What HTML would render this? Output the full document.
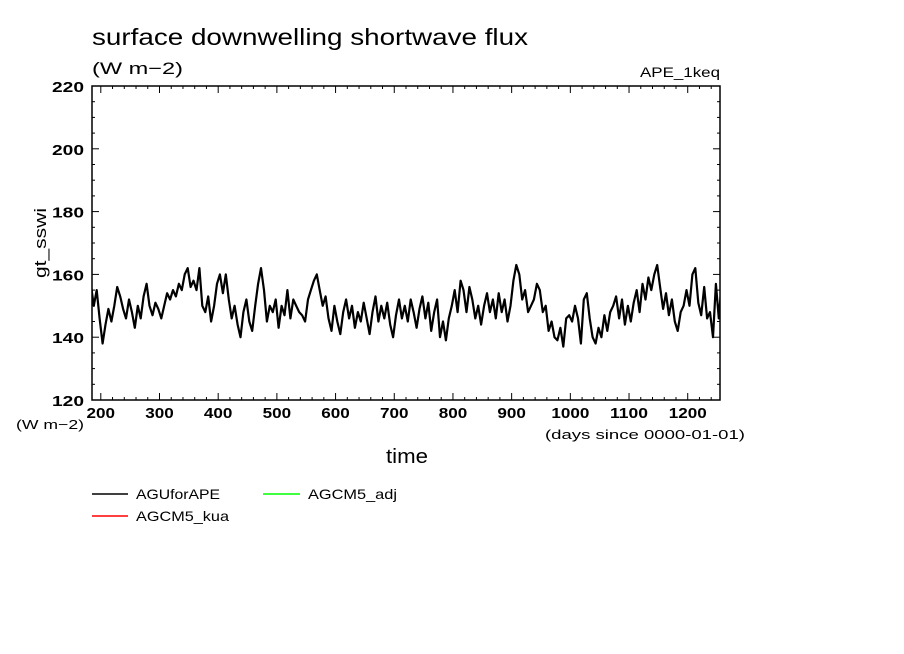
<!DOCTYPE html>
<html><head><meta charset="utf-8"><style>
body{margin:0;background:#fff;}
svg{display:block;font-family:"Liberation Sans",sans-serif;}
</style></head><body>
<svg id="chart" width="904" height="654">
<text x="92" y="45" font-size="23" textLength="436" lengthAdjust="spacingAndGlyphs">surface downwelling shortwave flux</text>
<text x="92" y="74" font-size="17" textLength="91" lengthAdjust="spacingAndGlyphs">(W m−2)</text>
<text x="640" y="77" font-size="14" textLength="80" lengthAdjust="spacingAndGlyphs">APE_1keq</text>
<g id="axes"></g>
<g id="series"></g>
<text transform="translate(46,278) rotate(-90)" font-size="17" textLength="70" lengthAdjust="spacingAndGlyphs">gt_sswi</text>
<text x="16" y="429" font-size="13" textLength="68" lengthAdjust="spacingAndGlyphs">(W m−2)</text>
<text x="545" y="439" font-size="13" textLength="200" lengthAdjust="spacingAndGlyphs">(days since 0000-01-01)</text>
<text x="386" y="463" font-size="20" textLength="42" lengthAdjust="spacingAndGlyphs">time</text>
<g>
<line x1="92" y1="494" x2="128" y2="494" stroke="#000" stroke-width="1.5"/>
<text x="136" y="499" font-size="14" textLength="84" lengthAdjust="spacingAndGlyphs">AGUforAPE</text>
<line x1="92" y1="516" x2="128" y2="516" stroke="#f00" stroke-width="1.5"/>
<text x="136" y="521" font-size="14" textLength="93" lengthAdjust="spacingAndGlyphs">AGCM5_kua</text>
<line x1="263" y1="494" x2="300" y2="494" stroke="#0f0" stroke-width="1.5"/>
<text x="308" y="499" font-size="14" textLength="89" lengthAdjust="spacingAndGlyphs">AGCM5_adj</text>
</g>
</svg>
<script>
const xTicks=[200,300,400,500,600,700,800,900,1000,1100,1200];
const yTicks=[120,140,160,180,200,220];
const startDay=183, stepDays=5;
const values=[157,150,155,146,138,144,149,145,150,156,153,149,146,152,148,143,150,146,153,157,150,147,151,149,146,150,154,152,155,153,157,155,160,162,156,158,155,162,150,148,153,145,150,157,160,154,160,152,146,150,144,140,148,152,145,142,150,157,162,155,145,150,148,152,143,150,147,155,146,152,150,148,147,145,152,155,158,160,155,150,153,146,142,150,145,141,148,152,146,150,143,148,145,151,146,141,148,153,145,150,146,151,144,140,147,152,146,150,145,152,148,143,149,153,146,151,142,148,152,140,145,139,146,150,155,148,158,155,148,156,152,146,150,144,150,154,148,152,146,154,148,152,145,150,158,163,160,152,155,148,150,152,157,155,148,150,142,145,140,139,143,137,146,147,145,150,146,138,152,154,146,140,138,143,140,147,142,148,150,153,146,152,144,150,145,151,155,148,157,152,159,155,160,163,156,149,154,147,152,145,142,148,150,155,150,160,162,151,147,156,146,148,140,157,146,158];
const L=92,R=720,T=86,B=400,X0=185,X1=1255,Y0=120,Y1=220;
const sx=d=>L+(d-X0)/(X1-X0)*(R-L);
const sy=v=>B-(v-Y0)/(Y1-Y0)*(B-T);
const NS='http://www.w3.org/2000/svg';
const ax=document.getElementById('axes');
function mk(t,a,p){const e=document.createElementNS(NS,t);for(const k in a)e.setAttribute(k,a[k]);p.appendChild(e);return e;}
const frame=mk('rect',{x:L,y:T,width:R-L,height:B-T,fill:'none',stroke:'#000','stroke-width':1.5},ax);


for(let d=200;d<=X1;d+=20){const len=(d%100===0)?7:3;
mk('line',{x1:sx(d),y1:B,x2:sx(d),y2:B-len,stroke:'#000'},ax);
mk('line',{x1:sx(d),y1:T,x2:sx(d),y2:T+len,stroke:'#000'},ax);}
for(let v=Y0;v<=Y1;v+=5){const len=(v%20===0)?7:3;
mk('line',{x1:L,y1:sy(v),x2:L+len,y2:sy(v),stroke:'#000'},ax);
mk('line',{x1:R,y1:sy(v),x2:R-len,y2:sy(v),stroke:'#000'},ax);}
xTicks.forEach(d=>{const w=String(d).length*9.5;const t=mk('text',{x:sx(d)-w/2,y:B+18,'font-size':15,'font-weight':'bold',textLength:w,lengthAdjust:'spacingAndGlyphs'},ax);t.textContent=d;

});
yTicks.forEach(v=>{const t=mk('text',{x:L-40,y:sy(v)+6,'font-size':15,'font-weight':'bold',textLength:32,lengthAdjust:'spacingAndGlyphs'},ax);t.textContent=v;

});
const pts=values.map((v,i)=>sx(startDay+i*stepDays).toFixed(1)+','+sy(v).toFixed(1));
const defs=mk('defs',{},document.getElementById('chart'));
const cp=mk('clipPath',{id:'clp'},defs);mk('rect',{x:L,y:T,width:R-L,height:B-T},cp);
const line=mk('polyline',{points:pts.join(' '),fill:'none',stroke:'#000','stroke-width':2.2,'stroke-linejoin':'round','clip-path':'url(#clp)'},document.getElementById('series'));


</script>
</body></html>
